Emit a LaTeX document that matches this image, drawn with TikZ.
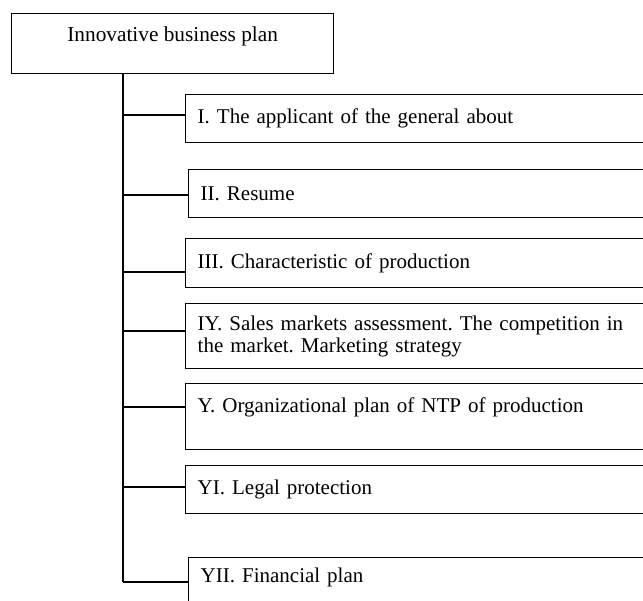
\documentclass[tikz,border=0pt]{standalone}
\usepackage{fontspec}
\setmainfont{Liberation Serif}

\begin{document}
\frenchspacing
\begin{tikzpicture}[x=1pt,y=-1pt,
    box/.style={draw,line width=1.4pt,anchor=north west,inner xsep=12pt,inner ysep=0pt,
      text width=451pt,align=left,font=\fontsize{21}{22}\selectfont},
    link/.style={line width=1.4pt}]
    \clip (0,0) rectangle (643,601);

    % Title box
    \node[draw,line width=1.4pt,anchor=north west,minimum width=322pt,minimum height=60pt,
      inner sep=0pt,align=center,font=\fontsize{21.3}{22}\selectfont] (plan) at (11,13)
      {Innovative business plan\\[-10pt] \strut};

    % Sections of the plan
    \node[box,minimum height=48pt] (s1) at (185,94) {I. The applicant of the general about};
    \node[box,minimum height=48pt] (s2) at (188,169) {II. Resume};
    \node[box,minimum height=49pt] (s3) at (185,238) {III. Characteristic of production};
    \node[box,minimum height=65pt] (s4) at (185,303) {IY. Sales markets assessment. The competition in\\ the market. Marketing strategy};
    \node[box,minimum height=66pt] (s5) at (185,383) {Y. Organizational plan of NTP of production\\[-6pt] \strut};
    \node[box,minimum height=48pt] (s6) at (185,465) {YI. Legal protection};
    \node[box,minimum height=64pt] (s7) at (188,557) {YII. Financial plan\\ \strut};

    % Branch points on the trunk
    \coordinate (b1) at (123,115);
    \coordinate (b2) at (123,195);
    \coordinate (b3) at (123,272);
    \coordinate (b4) at (123,331);
    \coordinate (b5) at (123,407);
    \coordinate (b6) at (123,487);
    \coordinate (b7) at (123,582);

    % Trunk and branches
    \draw[link] (plan.south -| b1) -- (b7);
    \foreach \i in {1,...,7}
        \draw[link] (b\i) -- (b\i -| s\i.west);
\end{tikzpicture}
\end{document}
